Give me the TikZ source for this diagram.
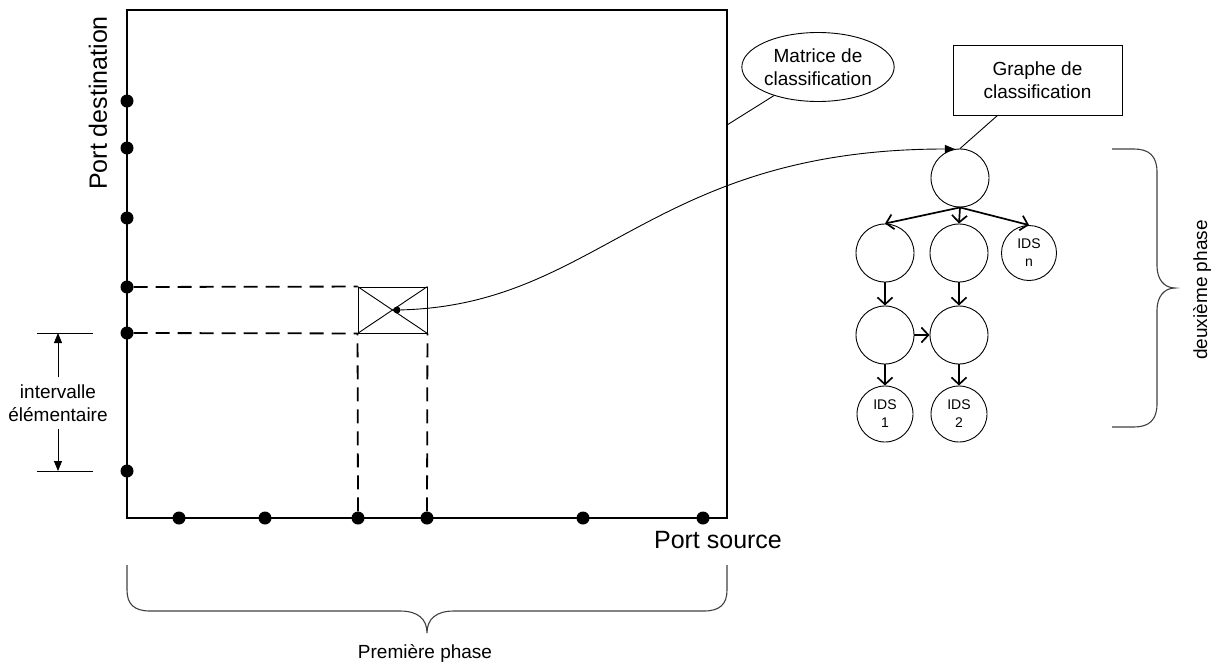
\documentclass[tikz,border=0pt]{standalone}
\usepackage{fontspec}
\setmainfont{Liberation Sans}
\usetikzlibrary{arrows.meta,shapes.geometric}
\begin{document}
\begin{tikzpicture}[x=1pt,y=-1pt,
  frame/.style={draw,line width=1.7pt,minimum width=600pt,minimum height=508pt,inner sep=0pt},
  port/.style={circle,fill,inner sep=0pt,minimum size=13pt},
  dashline/.style={line width=1.8pt,dash pattern=on 14pt off 8pt},
  lbl/.style={font=\fontsize{19}{23}\selectfont,align=center},
  big/.style={font=\fontsize{25}{30}\selectfont},
  gnode/.style={circle,draw,line width=0.9pt,minimum size=58pt,inner sep=0pt,
    font=\fontsize{14}{18}\selectfont,align=center},
  garrow/.style={line width=1.7pt,-{Straight Barb[length=7pt,width=15pt,line width=1.7pt]}},
  brace/.style={line width=1.1pt,draw=black!75},
  thin/.style={line width=0.9pt},
  tri/.style={thin,-{Triangle[length=10pt,width=8pt]}}
]
\useasboundingbox (0,0) rectangle (1216,667);

% classification matrix
\node[frame] (mat) at (427,264) {};

% port values on the two axes
\foreach \n/\y in {1/101,2/148,3/218,4/287,5/333,6/471}
  \node[port] (dl\n) at (127,\y) {};
\foreach \n/\x in {1/179,2/265,3/358,4/427,5/583,6/703}
  \node[port] (db\n) at (\x,518) {};

% selected cell
\node[draw,thin,minimum width=69pt,minimum height=46pt,inner sep=0pt] (bx) at (392.5,310) {};
\draw[thin] (bx.north west) -- (bx.south east);
\draw[thin] (bx.south west) -- (bx.north east);
\node[circle,fill,inner sep=0pt,minimum size=7pt] (cd) at (397,310) {};

\draw[dashline] (dl4) -- (bx.north west);
\draw[dashline] (dl5) -- (bx.south west);
\draw[dashline] (db3) -- (bx.south west);
\draw[dashline] (db4) -- (bx.south east);

% axis titles
\node[big,rotate=90] (pd) at (98,103) {Port destination};
\node[big] (ps) at (718,540) {Port source};

% elementary interval
\coordinate (it1) at (37,333);
\coordinate (it2) at (93,333);
\coordinate (ib1) at (37,471);
\coordinate (ib2) at (93,471);
\coordinate (iat) at (58,333);
\coordinate (iab) at (58,471);
\draw[thin] (it1) -- (it2);
\draw[thin] (ib1) -- (ib2);
\node[lbl,inner sep=7pt] (iv) at (58,403) {intervalle\\élémentaire};
\draw[tri] (iv.north) -- (iat);
\draw[tri] (iv.south) -- (iab);

% callouts
\node[ellipse,draw,thin,minimum width=137pt,minimum height=69pt,inner sep=0pt,lbl] (e1) at (818,67) {Matrice de\\classification};
\coordinate (mc) at (727,125);
\draw[thin] (e1.213) -- (mc);

\node[draw,thin,minimum width=169pt,minimum height=70pt,lbl] (g) at (1037.5,80) {Graphe de\\classification};

% classification graph
\node[gnode] (r)  at (960,178) {};
\node[gnode] (a1) at (885,253) {};
\node[gnode] (a2) at (959,253) {};
\node[gnode,minimum size=55pt] (an) at (1029,253) {IDS\\n};
\node[gnode] (b1) at (885,335) {};
\node[gnode] (b2) at (959,335) {};
\node[gnode,minimum size=56pt] (i1) at (885,414) {IDS\\1};
\node[gnode,minimum size=56pt] (i2) at (959,414) {IDS\\2};

\draw[thin] ([xshift=-40pt]g.south) -- (r.north);

\draw[garrow] (r.south) -- (a1.north);
\draw[garrow] (r.south) -- (a2.north);
\draw[garrow] (r.south) -- (an.north);
\draw[garrow] (a1) -- (b1);
\draw[garrow] (a2) -- (b2);
\draw[garrow] (b1) -- (b2);
\draw[garrow] (b1) -- (i1);
\draw[garrow] (b2) -- (i2);

% link from the cell to the graph root
\draw[tri] (cd) .. controls (600,305) and (650,149) .. (r.100);

% phase braces
\coordinate (p1a) at (127,565);
\coordinate (p1b) at (727,565);
\coordinate (p1t) at (427,633);
\draw[brace] (p1a) -- (127,590) .. controls (127,604) and (134,611) .. (150,611)
  -- (400,611) .. controls (418,611) and (427,619) .. (p1t)
  .. controls (427,619) and (436,611) .. (454,611)
  -- (704,611) .. controls (720,611) and (727,604) .. (727,590) -- (p1b);
\node[lbl] (ph1) at (425,653) {Première phase};

\coordinate (p2a) at (1112,149);
\coordinate (p2b) at (1112,427);
\coordinate (p2t) at (1175,288);
\draw[brace] (p2a) -- (1134,149) .. controls (1149,149) and (1157,156) .. (1157,172)
  -- (1157,266) .. controls (1157,279) and (1164,288) .. (p2t)
  .. controls (1164,288) and (1157,297) .. (1157,310)
  -- (1157,404) .. controls (1157,420) and (1149,427) .. (1134,427) -- (p2b);
\node[lbl,rotate=90] (ph2) at (1202,290) {deuxième phase};
\end{tikzpicture}
\end{document}
